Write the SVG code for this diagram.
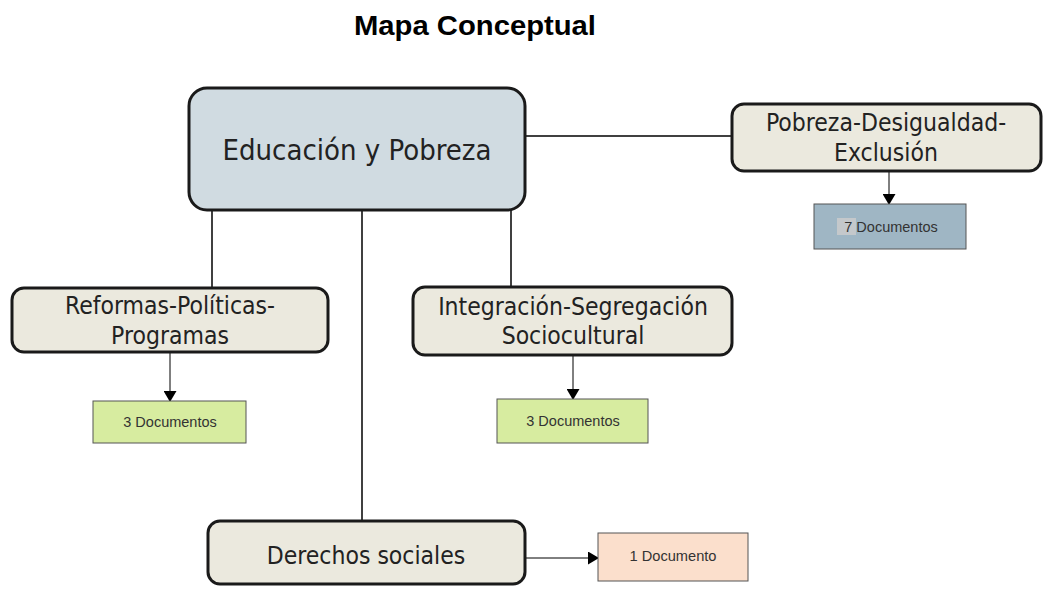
<svg xmlns="http://www.w3.org/2000/svg" width="1044" height="589" viewBox="0 0 1044 589">
<defs>
<marker id="arr" markerWidth="11" markerHeight="13" refX="10" refY="6.5" orient="auto" markerUnits="userSpaceOnUse"><path d="M0,0 L11,6.5 L0,13 Z" fill="#000"/></marker>
<style>
.node{stroke:#1a1a1a;stroke-width:3}
.main{fill:#d0dbe1}
.sub{fill:#ebe9de}
.doc{stroke:#555;stroke-width:1}
.t{font-family:"DejaVu Sans Condensed","DejaVu Sans",sans-serif;font-stretch:condensed;fill:#222;text-anchor:middle;font-size:24.5px}
.d{font-family:"Liberation Sans",Arial,sans-serif;font-size:14.5px;fill:#333;text-anchor:middle}
.c{stroke:#000;stroke-width:1.5;fill:none}
.a{stroke:#000;stroke-width:1;fill:none}
</style>
</defs>
<rect width="1044" height="589" fill="#fff"/>
<text x="475" y="35" font-family="Liberation Sans,Arial,sans-serif" font-weight="bold" font-size="28" text-anchor="middle" fill="#000" textLength="242" lengthAdjust="spacingAndGlyphs">Mapa Conceptual</text>
<g id="connectors">
<line class="c" x1="212" y1="210" x2="212" y2="288"/>
<line class="c" x1="362" y1="210" x2="362" y2="521"/>
<line class="c" x1="511" y1="210" x2="511" y2="287"/>
<line class="c" x1="525" y1="136" x2="732" y2="136"/>
<line class="a" x1="889" y1="171" x2="889" y2="204" marker-end="url(#arr)"/>
<line class="a" x1="170" y1="352" x2="170" y2="401" marker-end="url(#arr)"/>
<line class="a" x1="573" y1="355" x2="573" y2="399" marker-end="url(#arr)"/>
<line class="a" x1="525" y1="558" x2="598" y2="558" marker-end="url(#arr)"/>
</g>
<g id="educacion">
<rect class="node main" x="189" y="88" width="336" height="122" rx="18"/>
<text class="t" x="357" y="160" style="font-size:29px">Educación y Pobreza</text>
</g>
<g id="pobreza">
<rect class="node sub" x="732" y="104" width="309" height="67" rx="12"/>
<text class="t" x="886" y="131">Pobreza-Desigualdad-</text>
<text class="t" x="886" y="161">Exclusión</text>
</g>
<g id="doc7">
<rect class="doc" x="814" y="204" width="152" height="45" fill="#9fb6c4"/>
<rect x="837" y="218" width="19" height="17" fill="#c4c8cb"/>
<text class="d" x="891" y="232">7 Documentos</text>
</g>
<g id="reformas">
<rect class="node sub" x="12" y="288" width="316" height="64" rx="12"/>
<text class="t" x="170" y="314">Reformas-Políticas-</text>
<text class="t" x="170" y="344">Programas</text>
</g>
<g id="doc3a">
<rect class="doc" x="93" y="401" width="153" height="42" fill="#d7eca0"/>
<text class="d" x="170" y="427">3 Documentos</text>
</g>
<g id="integracion">
<rect class="node sub" x="413" y="287" width="319" height="68" rx="12"/>
<text class="t" x="573" y="315">Integración-Segregación</text>
<text class="t" x="573" y="344">Sociocultural</text>
</g>
<g id="doc3b">
<rect class="doc" x="497" y="399" width="151" height="44" fill="#d7eca0"/>
<text class="d" x="573" y="426">3 Documentos</text>
</g>
<g id="derechos">
<rect class="node sub" x="208" y="521" width="317" height="63" rx="12"/>
<text class="t" x="366" y="564">Derechos sociales</text>
</g>
<g id="doc1">
<rect class="doc" x="598" y="533" width="150" height="48" fill="#fbdfcc"/>
<text class="d" x="673" y="561" textLength="87" lengthAdjust="spacingAndGlyphs">1 Documento</text>
</g>
</svg>
